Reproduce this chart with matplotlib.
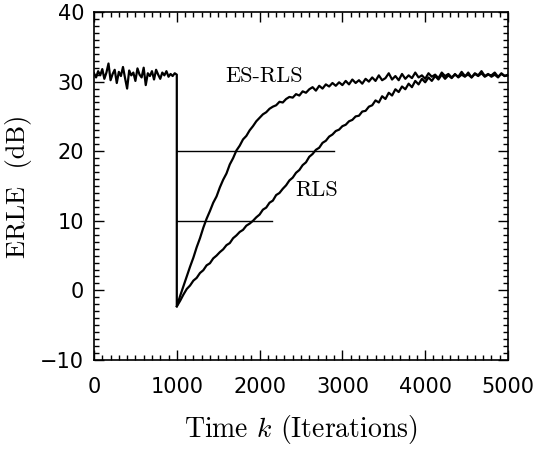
#!/usr/bin/env python3
# -*- coding: utf-8 -*-

import numpy as np
import matplotlib
matplotlib.use("Agg")
import matplotlib.pyplot as plt
from matplotlib.ticker import MultipleLocator

# =========================
# 数据
# =========================
# 0-1000: 变化前的稳态 (两种算法共用)
k_pre = np.arange(0, 1001, 25)
erle_pre = [31.2, 30.6, 31.5, 30.9, 31.8, 30.4, 31.3, 32.6, 30.2, 31.1,
            31.7, 29.8, 31.4, 30.8, 32.1, 30.5, 29.0, 31.6, 30.9, 31.3,
            30.1, 31.9, 31.0, 30.6, 32.0, 29.5, 31.2, 30.8, 31.5, 30.3,
            31.7, 31.0, 30.4, 31.3, 30.9, 31.5, 30.7, 31.1, 30.8, 31.2,
            31.0]

# 1000-5000: 回声路径变化后
k_post = np.arange(1000, 5001, 40)
erle_es_rls = [-2.3, -0.8, 0.6, 2.0, 3.4, 4.7, 6.2, 7.5, 9.0, 10.3,
               11.4, 12.6, 13.5, 14.8, 15.9, 16.8, 18.1, 19.0, 20.1, 20.8,
               21.7, 22.2, 23.0, 23.6, 24.3, 24.8, 25.3, 25.6, 26.1, 26.4,
               26.6, 27.1, 27.0, 27.5, 27.8, 27.7, 28.2, 28.0, 28.6, 28.4,
               28.9, 29.2, 28.7, 29.4, 29.0, 29.6, 29.3, 29.8, 29.4, 29.9,
               29.5, 30.1, 29.6, 30.3, 29.8, 30.2, 29.7, 30.4, 30.0, 30.6,
               30.1, 30.9, 30.2, 30.5, 31.2, 30.3, 30.8, 30.2, 31.1, 30.4,
               30.9, 30.5, 31.3, 30.6, 30.9, 30.4, 31.2, 30.7, 31.0, 30.5,
               31.3, 30.8, 31.1, 30.6, 31.0, 30.7, 31.4, 30.8, 31.0, 30.6,
               31.2, 30.9, 31.5, 30.8, 31.1, 30.7, 31.0, 30.6, 31.2, 30.8,
               31.0]
erle_rls = [-2.3, -1.5, -0.6, 0.2, 0.7, 1.4, 1.8, 2.5, 2.9, 3.6,
            3.9, 4.6, 5.0, 5.5, 5.9, 6.5, 6.8, 7.5, 7.9, 8.4,
            8.7, 9.3, 9.6, 10.0, 10.5, 10.9, 11.6, 11.9, 12.6, 12.9,
            13.7, 14.0, 14.6, 15.1, 15.8, 16.2, 16.9, 17.3, 18.0, 18.4,
            19.2, 19.6, 20.2, 20.5, 21.2, 21.5, 22.1, 22.4, 22.9, 23.1,
            23.6, 23.8, 24.3, 24.5, 25.0, 25.1, 25.7, 25.8, 26.4, 26.6,
            27.3, 27.0, 27.9, 27.5, 28.4, 28.0, 28.9, 28.5, 29.3, 28.9,
            29.7, 29.2, 30.1, 29.6, 30.4, 29.9, 30.6, 30.1, 30.8, 30.3,
            31.0, 30.4, 30.9, 30.5, 31.1, 30.6, 31.0, 30.7, 31.3, 30.6,
            31.1, 30.8, 31.2, 30.7, 31.0, 30.9, 31.3, 30.7, 31.1, 30.8,
            30.9]

# 收敛时间参考线 (10 dB 与 20 dB)
ref_levels = [20, 10]
ref_start = [1000, 1000]
ref_end = [2900, 2150]

# 曲线标注
label_text = ["ES-RLS", "RLS"]
label_k = [2060, 2690]
label_erle = [30.7, 14.4]

# =========================
# 绘图
# =========================
plt.rcParams["mathtext.fontset"] = "cm"
plt.rcParams["axes.formatter.use_mathtext"] = True

fig = plt.figure(figsize=(5.44, 4.5), dpi=100)
ax = fig.add_axes([0.1728, 0.2, 0.761, 0.7733])

k_es = np.concatenate([k_pre, k_post])
ax.plot(k_es, np.concatenate([erle_pre, erle_es_rls]), color="black", linewidth=1.6)
ax.plot(k_post, erle_rls, color="black", linewidth=1.6)

for lvl, k0, k1 in zip(ref_levels, ref_start, ref_end):
    ax.plot([k0, k1], [lvl, lvl], color="black", linewidth=1.0)

for txt, kx, ey in zip(label_text, label_k, label_erle):
    ax.text(kx, ey, txt, family="cmr10", fontsize=16, ha="center", va="center")

ax.set_xlim(0, 5000)
ax.set_ylim(-10, 40)
ax.xaxis.set_major_locator(MultipleLocator(1000))
ax.xaxis.set_minor_locator(MultipleLocator(100))
ax.yaxis.set_major_locator(MultipleLocator(10))
ax.yaxis.set_minor_locator(MultipleLocator(1))
ax.tick_params(which="both", direction="in", top=True, right=True, width=1.0)
ax.tick_params(which="major", length=7)
ax.tick_params(which="minor", length=3.5)
ax.tick_params(axis="x", labelsize=15, pad=12)
ax.tick_params(axis="y", labelsize=15, pad=7)
ax.set_yticks([-10, 0, 10, 20, 30, 40])
ax.set_yticklabels(["\u221210", "0", "10", "20", "30", "40"])
ax.set_xticks([0, 1000, 2000, 3000, 4000, 5000])
ax.set_xticklabels(["0", "1000", "2000", "3000", "4000", "5000"])
for s in ax.spines.values():
    s.set_linewidth(1.2)

ax.set_xlabel(r"Time $k$ (Iterations)", family="cmr10", fontsize=20, labelpad=12)
ax.set_ylabel("ERLE  (dB)", family="cmr10", fontsize=19, labelpad=6)

plt.savefig("out.png", dpi=100)
plt.close()
